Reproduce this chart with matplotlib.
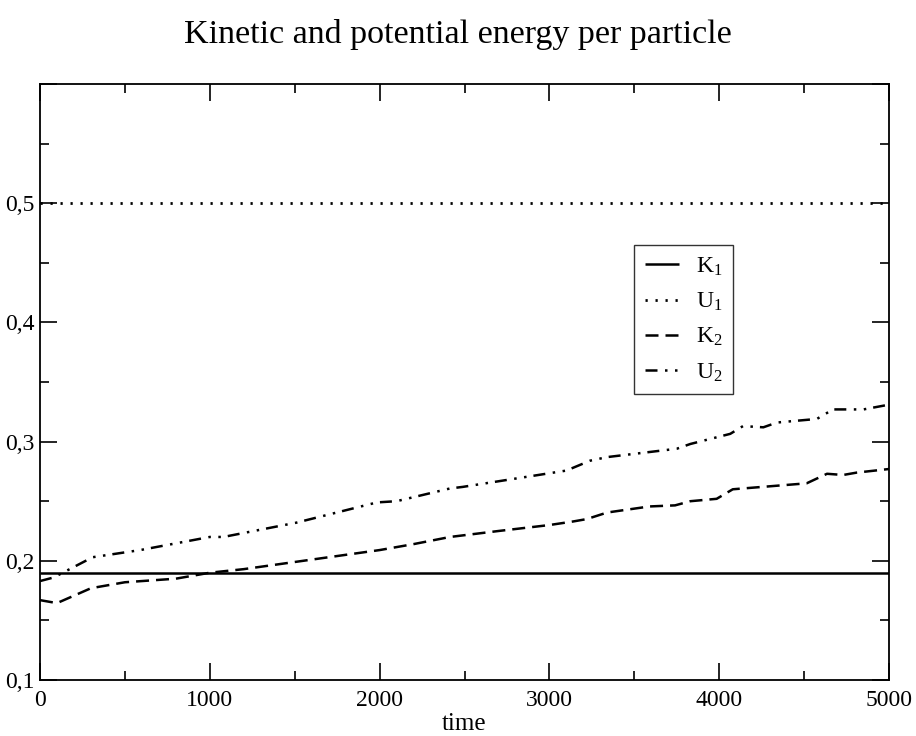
import matplotlib
matplotlib.use("Agg")
import matplotlib.pyplot as plt
from matplotlib.ticker import MultipleLocator, FuncFormatter

plt.rcParams['font.family'] = ['Liberation Serif', 'DejaVu Serif']
plt.rcParams['mathtext.fontset'] = 'custom'
plt.rcParams['mathtext.rm'] = 'Liberation Serif'
plt.rcParams['mathtext.it'] = 'Liberation Serif:italic'

# ---- data ----
title = "Kinetic and potential energy per particle"
xlabel = "time"
legend_labels = ["K$_\\mathrm{1}$", "U$_\\mathrm{1}$", "K$_\\mathrm{2}$", "U$_\\mathrm{2}$"]

k1_t = [0, 5000]
k1_v = [0.190, 0.190]

u1_t = [0, 5000]
u1_v = [0.500, 0.500]

k2_t = [0, 100, 300, 500, 800, 1000, 1200, 1500, 1600, 2000, 2200, 2415, 2700,
        3000, 3140, 3220, 3340, 3590, 3740, 3830, 3985, 4080, 4515, 4635, 4730, 4810, 5000]
k2_v = [0.167, 0.1645, 0.177, 0.182, 0.185, 0.190, 0.193, 0.199, 0.201, 0.209, 0.214, 0.220, 0.225,
        0.230, 0.233, 0.235, 0.2405, 0.2456, 0.2465, 0.250, 0.252, 0.260, 0.265, 0.273, 0.272, 0.274, 0.277]

u2_t = [0, 80, 310, 590, 1000, 1080, 1510, 1985, 2100, 2415, 2490, 3100, 3240, 3340,
        3750, 3830, 4065, 4140, 4260, 4340, 4575, 4670, 4850, 5000]
u2_v = [0.183, 0.186, 0.203, 0.209, 0.220, 0.220, 0.232, 0.249, 0.250, 0.2607, 0.262, 0.2757, 0.284, 0.287,
        0.294, 0.298, 0.3065, 0.313, 0.312, 0.316, 0.319, 0.327, 0.327, 0.331]

fig = plt.figure(figsize=(9.16, 7.36), dpi=100)
ax = fig.add_axes([40/916, 1-680/736, 849/916, 596/736])

lw = 1.8
ax.plot(k1_t, k1_v, color='black', lw=lw, solid_capstyle='butt', label=legend_labels[0])
ax.plot(u1_t, u1_v, color='black', lw=2.0, linestyle=(0, (0.8, 2.8)), label=legend_labels[1])
ax.plot(k2_t, k2_v, color='black', lw=lw, linestyle=(0, (5.2, 2.8)), label=legend_labels[2])
ax.plot(u2_t, u2_v, color='black', lw=lw,
        linestyle=(0, (4.8, 3.0, 1.0, 3.0, 1.0, 2.8)), label=legend_labels[3])

ax.set_xlim(0, 5000)
ax.set_ylim(0.1, 0.6)
ax.xaxis.set_major_locator(MultipleLocator(1000))
ax.xaxis.set_minor_locator(MultipleLocator(500))
ax.yaxis.set_major_locator(MultipleLocator(0.1))
ax.yaxis.set_minor_locator(MultipleLocator(0.05))

def yfmt(v, pos):
    if v > 0.55:
        return ""
    return ("%.1f" % v).replace('.', ',')
ax.yaxis.set_major_formatter(FuncFormatter(yfmt))
ax.xaxis.set_major_formatter(FuncFormatter(lambda v, p: "%d" % v))

ax.tick_params(which='both', direction='in', top=True, right=True, width=1.2, labelsize=17)
ax.tick_params(axis='x', pad=7)
ax.tick_params(axis='y', pad=4)
ax.tick_params(which='major', length=12)
ax.tick_params(which='minor', length=6.5)
for s in ax.spines.values():
    s.set_linewidth(1.3)

ax.set_xlabel(xlabel, fontsize=18, labelpad=2)
fig.text(0.5, 1-35/736, title, ha='center', va='center', fontsize=24.5)

leg = ax.legend(loc='upper left', bbox_to_anchor=(0.70, 0.73), fontsize=17,
                frameon=True, fancybox=False, shadow=False, handlelength=1.45,
                borderpad=0.45, labelspacing=0.55, handletextpad=0.7, borderaxespad=0)
leg.get_frame().set_edgecolor('black')
leg.get_frame().set_linewidth(1.0)

fig.savefig("out.png", dpi=100)
